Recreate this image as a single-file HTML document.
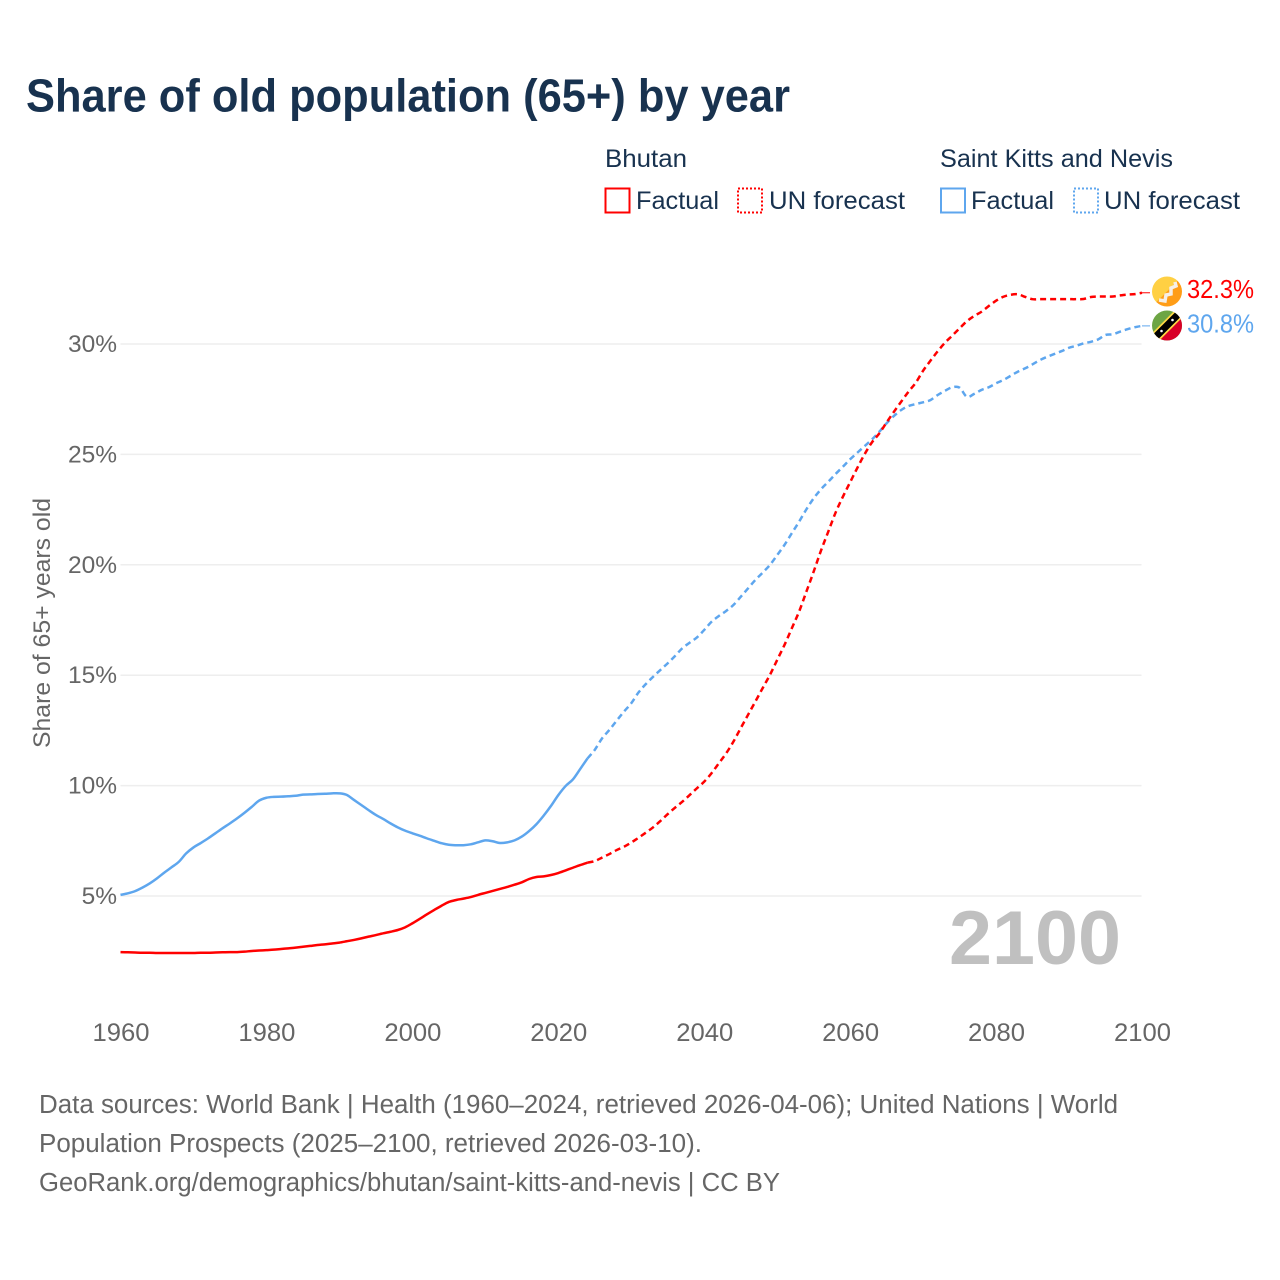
<!DOCTYPE html>
<html lang="en">
<head>
<meta charset="utf-8">
<title>Share of old population (65+) by year</title>
<style>
html,body{margin:0;padding:0;background:#fff;}
svg{display:block;}
text{font-family:"Liberation Sans",Arial,sans-serif;}
</style>
</head>
<body>
<svg id="chart" xmlns="http://www.w3.org/2000/svg" width="1280" height="1280" viewBox="0 0 1280 1280">
  <defs>
    <clipPath id="clip-a"><circle cx="1167" cy="291.5" r="15"/></clipPath>
    <clipPath id="clip-b"><circle cx="1167" cy="325.5" r="15"/></clipPath>
    <linearGradient id="flag-bt" x1="0" y1="0" x2="1" y2="1"><stop offset="0.49" stop-color="#ffd043"/><stop offset="0.51" stop-color="#ff9d17"/></linearGradient>
  </defs>
  <text x="26" y="111.5" font-size="46" font-weight="700" fill="#18324f" textLength="764" lengthAdjust="spacingAndGlyphs">Share of old population (65+) by year</text>

  <g font-size="25" fill="#18324f">
    <text x="605" y="167" textLength="82" lengthAdjust="spacingAndGlyphs">Bhutan</text>
    <text x="940" y="167" textLength="233" lengthAdjust="spacingAndGlyphs">Saint Kitts and Nevis</text>
    <g>
      <rect x="605.5" y="188.5" width="24" height="24" fill="none" stroke="#ff0000" stroke-width="2"/>
      <text x="636" y="209" textLength="83" lengthAdjust="spacingAndGlyphs">Factual</text>
    </g>
    <g>
      <rect x="738" y="188.5" width="24" height="24" fill="none" stroke="#ff0000" stroke-width="2" stroke-dasharray="2 2"/>
      <text x="769" y="209" textLength="136" lengthAdjust="spacingAndGlyphs">UN forecast</text>
    </g>
    <g>
      <rect x="941" y="188.5" width="24" height="24" fill="none" stroke="#5ea6ee" stroke-width="2"/>
      <text x="971" y="209" textLength="83" lengthAdjust="spacingAndGlyphs">Factual</text>
    </g>
    <g>
      <rect x="1074" y="188.5" width="24" height="24" fill="none" stroke="#5ea6ee" stroke-width="2" stroke-dasharray="2 2"/>
      <text x="1104" y="209" textLength="136" lengthAdjust="spacingAndGlyphs">UN forecast</text>
    </g>
  </g>

  <g id="grid"></g>
  <g id="y-ticks"></g>
  <g id="x-ticks"></g>
  <text transform="translate(50,623) rotate(-90)" text-anchor="middle" font-size="24" fill="#666666" textLength="250" lengthAdjust="spacingAndGlyphs">Share of 65+ years old</text>

  <text x="949" y="964" font-size="76" font-weight="700" fill="#c0c0c0" textLength="172" lengthAdjust="spacingAndGlyphs">2100</text>

  <g id="series"></g>

  <g clip-path="url(#clip-a)">
    <rect x="1152" y="276.5" width="30" height="30" fill="url(#flag-bt)"/>
    <polyline points="1159,300 1165,301 1166,295 1171,294 1171,288 1176,286 1175,282" fill="none" stroke="#f6efe6" stroke-width="3.5"/>
  </g>
  <g clip-path="url(#clip-b)">
    <rect x="1152" y="310.5" width="30" height="30" fill="#6da544"/>
    <polygon points="1182,310.5 1182,340.5 1152,340.5" fill="#d80027"/>
    <line x1="1151" y1="341.5" x2="1183" y2="309.5" stroke="#ffda44" stroke-width="10.5"/>
    <line x1="1151" y1="341.5" x2="1183" y2="309.5" stroke="#000000" stroke-width="7"/>
    <circle cx="1161.5" cy="331" r="1.3" fill="#fff"/>
    <circle cx="1172.5" cy="320" r="1.3" fill="#fff"/>
  </g>
  <g id="end-labels"></g>

  <g font-size="25.5" fill="#666666">
    <text x="39" y="1113" textLength="1079" lengthAdjust="spacingAndGlyphs">Data sources: World Bank | Health (1960–2024, retrieved 2026-04-06); United Nations | World</text>
    <text x="39" y="1152" textLength="663" lengthAdjust="spacingAndGlyphs">Population Prospects (2025–2100, retrieved 2026-03-10).</text>
    <text x="39" y="1191" textLength="741" lengthAdjust="spacingAndGlyphs">GeoRank.org/demographics/bhutan/saint-kitts-and-nevis | CC BY</text>
  </g>
</svg>

<script>
const years = [
1960,1961,1962,1963,1964,1965,1966,1967,1968,1969,
1970,1971,1972,1973,1974,1975,1976,1977,1978,1979,
1980,1981,1982,1983,1984,1985,1986,1987,1988,1989,
1990,1991,1992,1993,1994,1995,1996,1997,1998,1999,
2000,2001,2002,2003,2004,2005,2006,2007,2008,2009,
2010,2011,2012,2013,2014,2015,2016,2017,2018,2019,
2020,2021,2022,2023,2024,2025,2026,2027,2028,2029,
2030,2031,2032,2033,2034,2035,2036,2037,2038,2039,
2040,2041,2042,2043,2044,2045,2046,2047,2048,2049,
2050,2051,2052,2053,2054,2055,2056,2057,2058,2059,
2060,2061,2062,2063,2064,2065,2066,2067,2068,2069,
2070,2071,2072,2073,2074,2075,2076,2077,2078,2079,
2080,2081,2082,2083,2084,2085,2086,2087,2088,2089,
2090,2091,2092,2093,2094,2095,2096,2097,2098,2099,
2100];
const bhutanShare = [
2.46,2.45,2.44,2.43,2.43,2.42,2.42,2.42,2.42,2.42,
2.42,2.43,2.43,2.44,2.45,2.46,2.46,2.48,2.51,2.53,
2.55,2.57,2.60,2.63,2.66,2.70,2.74,2.78,2.81,2.85,
2.89,2.95,3.01,3.08,3.16,3.23,3.31,3.38,3.46,3.58,
3.76,3.96,4.17,4.37,4.56,4.73,4.82,4.88,4.95,5.05,
5.14,5.23,5.32,5.41,5.51,5.62,5.77,5.86,5.89,5.95,
6.04,6.16,6.28,6.40,6.51,6.58,6.74,6.90,7.08,7.23,
7.42,7.64,7.87,8.11,8.40,8.71,9.00,9.27,9.57,9.88,
10.18,10.56,11.01,11.46,11.99,12.60,13.20,13.80,14.41,15.01,
15.69,16.37,17.12,17.88,18.78,19.69,20.64,21.50,22.36,23.08,
23.74,24.40,25.02,25.55,25.95,26.45,26.93,27.39,27.84,28.25,
28.79,29.24,29.67,30.06,30.38,30.71,31.03,31.27,31.46,31.72,
31.96,32.14,32.23,32.25,32.13,32.03,32.03,32.03,32.03,32.03,
32.03,32.03,32.04,32.13,32.15,32.15,32.15,32.20,32.24,32.26,
32.32];
const kittsShare = [
5.05,5.12,5.22,5.38,5.57,5.80,6.06,6.30,6.55,6.93,
7.20,7.40,7.61,7.84,8.07,8.29,8.52,8.77,9.04,9.32,
9.45,9.49,9.50,9.52,9.54,9.59,9.60,9.62,9.63,9.65,
9.65,9.58,9.35,9.12,8.89,8.67,8.49,8.29,8.11,7.96,
7.84,7.73,7.61,7.50,7.39,7.32,7.30,7.30,7.34,7.43,
7.52,7.48,7.40,7.43,7.52,7.69,7.94,8.25,8.64,9.08,
9.57,9.98,10.28,10.75,11.23,11.62,12.14,12.52,12.94,13.35,
13.73,14.22,14.60,14.93,15.24,15.54,15.87,16.22,16.47,16.71,
17.05,17.42,17.68,17.91,18.18,18.55,18.93,19.31,19.64,19.99,
20.44,20.90,21.43,21.95,22.51,23.01,23.42,23.76,24.11,24.44,
24.78,25.08,25.38,25.68,26.03,26.41,26.74,27.01,27.19,27.28,
27.36,27.46,27.69,27.88,28.04,28.02,27.61,27.74,27.92,28.04,
28.22,28.37,28.56,28.75,28.90,29.08,29.27,29.42,29.55,29.68,
29.83,29.92,30.03,30.10,30.21,30.41,30.44,30.56,30.67,30.76,
30.82];
const lastFactualYear = [2024];
const xTickLabels = [1960,1980,2000,2020,2040,2060,2080,2100];
const yTickLabels = [5,10,15,20,25,30];

const SVGNS = 'http://www.w3.org/2000/svg';
const xScale = v => 120.5 + (v - 1960) * (1142 - 120.5) / 140;
const yScale = v => 1006.4 - v * 22.08;
const RED = '#ff0000';
const BLUE = '#5ea6ee';

function mk(tag, parent) {
  const el = document.createElementNS(SVGNS, tag);
  parent.appendChild(el);
  return el;
}

const gridG = document.getElementById('grid');
const yG = document.getElementById('y-ticks');
yTickLabels.forEach(function (v) {
  const ln = mk('line', gridG);
  
  
  ln.setAttribute('x1', xScale(1960));
  ln.setAttribute('x2', xScale(2100) - 0.5);
  ln.setAttribute('y1', yScale(v));
  ln.setAttribute('y2', yScale(v));
  ln.setAttribute('stroke', '#eeeeee');
  ln.setAttribute('stroke-width', '1.5');
  const t = mk('text', yG);
  
  
  t.setAttribute('x', '117');
  t.setAttribute('y', yScale(v) + 8);
  t.setAttribute('text-anchor', 'end');
  t.setAttribute('font-size', '24.5');
  t.setAttribute('fill', '#666666');
  t.textContent = v + '%';
});

const xG = document.getElementById('x-ticks');
xTickLabels.forEach(function (v) {
  const t = mk('text', xG);
  
  
  t.setAttribute('x', xScale(v) + 0.5);
  t.setAttribute('y', '1041');
  t.setAttribute('text-anchor', 'middle');
  t.setAttribute('font-size', '25');
  t.setAttribute('fill', '#666666');
  t.setAttribute('textLength', '57');
  t.setAttribute('lengthAdjust', 'spacingAndGlyphs');
  t.textContent = String(v);
});

function pathFor(values, from, to) {
  const pts = [];
  years.forEach(function (yr, i) {
    if (yr < from || yr > to) return;
    pts.push([xScale(yr), yScale(values[i])]);
  });
  let d = 'M' + pts[0][0].toFixed(2) + ' ' + pts[0][1].toFixed(2);
  for (let i = 0; i < pts.length - 1; i++) {
    const p0 = pts[Math.max(i - 1, 0)];
    const p1 = pts[i];
    const p2 = pts[i + 1];
    const p3 = pts[Math.min(i + 2, pts.length - 1)];
    const c1x = p1[0] + (p2[0] - p0[0]) / 6;
    const c1y = p1[1] + (p2[1] - p0[1]) / 6;
    const c2x = p2[0] - (p3[0] - p1[0]) / 6;
    const c2y = p2[1] - (p3[1] - p1[1]) / 6;
    d += 'C' + c1x.toFixed(2) + ' ' + c1y.toFixed(2) + ' ' + c2x.toFixed(2) + ' ' + c2y.toFixed(2) + ' ' + p2[0].toFixed(2) + ' ' + p2[1].toFixed(2);
  }
  return d;
}

const seriesG = document.getElementById('series');
const labelsG = document.getElementById('end-labels');

function drawSeries(key, values, color, labelOffset) {
  const solid = mk('path', seriesG);
  
  
  solid.setAttribute('d', pathFor(values, years[0], lastFactualYear[0]));
  solid.setAttribute('fill', 'none');
  solid.setAttribute('stroke', color);
  solid.setAttribute('stroke-width', '2.5');

  const dash = mk('path', seriesG);
  
  
  dash.setAttribute('d', pathFor(values, lastFactualYear[0], years[years.length - 1]));
  dash.setAttribute('fill', 'none');
  dash.setAttribute('stroke', color);
  dash.setAttribute('stroke-width', '2.5');
  dash.setAttribute('stroke-dasharray', '6 4');

  const last = values[values.length - 1];
  const lead = mk('line', seriesG);
  
  
  lead.setAttribute('x1', xScale(2100));
  lead.setAttribute('x2', xScale(2100) + 8);
  lead.setAttribute('y1', yScale(last));
  lead.setAttribute('y2', yScale(last));
  lead.setAttribute('stroke', color);
  lead.setAttribute('stroke-width', '1');

  const lbl = mk('text', labelsG);
  
  
  lbl.setAttribute('x', '1187');
  lbl.setAttribute('y', yScale(last) + labelOffset);
  lbl.setAttribute('font-size', '25.5');
  lbl.setAttribute('fill', color);
  lbl.setAttribute('textLength', '67');
  lbl.setAttribute('lengthAdjust', 'spacingAndGlyphs');
  lbl.textContent = last.toFixed(1) + '%';
}

drawSeries('saint-kitts', kittsShare, BLUE, 6.5);
drawSeries('bhutan', bhutanShare, RED, 5);
</script>
</body>
</html>
